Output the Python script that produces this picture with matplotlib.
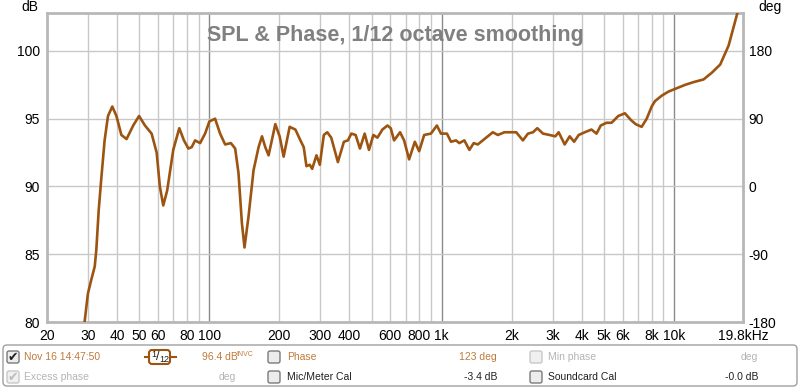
import numpy as np
import matplotlib.pyplot as plt
from matplotlib.patches import FancyBboxPatch

plt.rcParams['font.family'] = ['Liberation Sans', 'DejaVu Sans']
plt.rcParams['axes.unicode_minus'] = False

# АЧХ, значения (Гц, дБ)
freq = [28.8, 30.0, 31.0, 32.1, 32.6, 33.4, 34.3, 35.4, 36.6, 38.2,
        39.8, 41.8, 44.0, 47.0, 49.8, 52.8, 56.4, 59.3, 61.2, 63.3,
        65.8, 69.9, 74.2, 77.7, 81.2, 83.9, 86.8, 91.2, 95.8, 100,
        105.8, 111.2, 116.9, 123.7, 129.1, 133.4, 138.0, 141.6, 147.4, 154.9,
        162.8, 168.4, 174.0, 179.8, 192.2, 200.6, 208.7, 221.5, 234.5, 246.5,
        254.7, 261.6, 270.4, 276.9, 289.0, 298.7, 310.8, 321.5, 334.5, 357.3,
        379.2, 394.6, 408.2, 426.0, 444.6, 465.9, 486.3, 507.9, 528.6, 555.5,
        583.9, 603.3, 623.4, 661.7, 688.6, 723.7, 766.0, 799.5, 840.3, 898.0,
        953.3, 992.0, 1053, 1096, 1152, 1190, 1251, 1315, 1373, 1429,
        1502, 1579, 1659, 1744, 1862, 1990, 2092, 2236, 2350, 2470,
        2578, 2728, 2913, 3083, 3186, 3382, 3554, 3713, 3887, 4126,
        4411, 4636, 4837, 5121, 5382, 5752, 6142, 6521, 6833, 7253,
        7623, 8011, 8278, 8849, 9458, 10100, 11160, 12130, 13400, 14550,
        15800, 17170, 18660, 19800]
spl = [79.5, 82.1, 83.1, 84.1, 85.3, 88.3, 90.7, 93.4, 95.2, 95.9,
       95.2, 93.8, 93.5, 94.5, 95.2, 94.5, 93.9, 92.5, 90.0, 88.6,
       89.7, 92.7, 94.3, 93.4, 92.8, 92.9, 93.4, 93.2, 93.9, 94.8,
       95.0, 93.9, 93.1, 93.2, 92.8, 91.0, 87.3, 85.5, 87.8, 91.2,
       92.9, 93.7, 92.9, 92.3, 94.6, 93.7, 92.2, 94.4, 94.2, 93.4,
       92.9, 91.5, 91.6, 91.3, 92.3, 91.6, 93.8, 94.0, 93.6, 91.8,
       93.3, 93.4, 93.9, 93.8, 92.8, 93.9, 92.7, 93.8, 93.6, 94.2,
       94.5, 94.3, 93.4, 94.0, 93.4, 92.0, 93.3, 92.6, 93.8, 93.9,
       94.5, 93.9, 93.9, 93.3, 93.4, 93.2, 93.4, 92.7, 93.2, 93.1,
       93.4, 93.7, 94.0, 93.8, 94.0, 94.0, 94.0, 93.4, 93.9, 94.0,
       94.3, 93.9, 93.8, 93.7, 94.0, 93.1, 93.7, 93.3, 93.8, 94.0,
       94.2, 93.9, 94.5, 94.7, 94.7, 95.2, 95.4, 94.9, 94.6, 94.4,
       95.0, 95.9, 96.3, 96.7, 97.0, 97.2, 97.5, 97.7, 97.9, 98.4,
       99.0, 100.4, 102.7, 104.0]

x_grid = [20, 30, 40, 50, 60, 70, 80, 90,
          100, 200, 300, 400, 500, 600, 700, 800, 900,
          1000, 2000, 3000, 4000, 5000, 6000, 7000, 8000, 9000, 10000]
x_decades = [100, 1000, 10000]
x_ticks = [20, 30, 40, 50, 60, 80, 100, 200, 300, 400, 600, 800,
           1000, 2000, 3000, 4000, 5000, 6000, 8000, 10000, 19800]
x_labels = ['20', '30', '40', '50', '60', '80', '100', '200', '300', '400', '600', '800',
            '1k', '2k', '3k', '4k', '5k', '6k', '8k', '10k', '19.8kHz']
db_ticks = [80, 85, 90, 95, 100]
deg_ticks = [-180, -90, 0, 90, 180]

W, H = 800, 389
fig = plt.figure(figsize=(W / 100, H / 100), dpi=100)
ax = fig.add_axes([47 / W, 1 - 322 / H, (743 - 47) / W, (322 - 13) / H])

ax.set_xscale('log')
ax.set_xlim(20, 19800)
ax.set_ylim(80, 102.8)

for f in x_grid:
    c = '#8a8a8a' if f in x_decades else '#c8c8c8'
    ax.axvline(f, color=c, lw=1, zorder=1)
for d in db_ticks:
    ax.axhline(d, color='#c8c8c8', lw=1, zorder=1)

ax.plot(freq, spl, color='#9c5410', lw=1.9, zorder=3,
        solid_joinstyle='round', solid_capstyle='round')

ax.set_xticks(x_ticks)
ax.set_xticklabels(x_labels)
ax.minorticks_off()
ax.set_yticks(db_ticks)
ax.tick_params(length=0, labelsize=10, pad=5)
for s in ax.spines.values():
    s.set_color('#b8b8b8')
    s.set_linewidth(2)

ax2 = ax.twinx()
ax2.set_ylim(-180, (102.8 - 90) * 18)
ax2.set_yticks(deg_ticks)
ax2.tick_params(length=0, labelsize=10, pad=4)
for s in ax2.spines.values():
    s.set_visible(False)

ax.text(0.5, 0.96, 'SPL & Phase, 1/12 octave smoothing', transform=ax.transAxes,
        ha='center', va='top', fontsize=15.5, fontweight='bold', color='#808080', zorder=4)

# Подписи осей и нижняя панель в пикселях
pan = fig.add_axes([0, 0, 1, 1], zorder=-1)
pan.set_xlim(0, W)
pan.set_ylim(H, 0)
pan.axis('off')

pan.text(30, 7, 'dB', ha='center', va='center', fontsize=10)
pan.text(770, 7, 'deg', ha='center', va='center', fontsize=10)

pan.add_patch(FancyBboxPatch((3, 345), 794, 41, boxstyle='round,pad=0,rounding_size=4',
                             fc='white', ec='#a0a0a0', lw=1))

orange = '#c07a3a'
light = '#b4b4b4'
r1, r2 = 357, 377


def checkbox(x, y, checked=False, enabled=True):
    ec = '#7a7a7a' if enabled else '#c8c8c8'
    fc = '#ececec' if enabled else '#f0f0f0'
    pan.add_patch(FancyBboxPatch((x, y - 6), 12, 12, boxstyle='round,pad=0,rounding_size=2',
                                 fc=fc, ec=ec, lw=1))
    if checked:
        pan.text(x + 6, y, '✔', ha='center', va='center', fontsize=9,
                 family='DejaVu Sans', color='#202020' if enabled else '#bcbcbc')


checkbox(7, r1, checked=True)
checkbox(7, r2, checked=True, enabled=False)
checkbox(268, r1)
checkbox(268, r2)
checkbox(530, r1, enabled=False)
checkbox(530, r2)

fs = 7.5
pan.text(24, r1, 'Nov 16 14:47:50', ha='left', va='center', fontsize=fs, color=orange)
pan.text(24, r2, 'Excess phase', ha='left', va='center', fontsize=fs, color=light)

# значок сглаживания 1/12
pan.plot([145, 149], [357, 357], color='#9c5410', lw=1.5)
pan.plot([170, 176], [357, 357], color='#9c5410', lw=1.5)
pan.add_patch(FancyBboxPatch((149, 350), 21, 14, boxstyle='round,pad=0,rounding_size=3',
                             fc='white', ec='#9c5410', lw=1.5))
pan.text(154, 354.5, '1', ha='center', va='center', fontsize=6.5, color='#202020')
pan.text(158, 357, '/', ha='center', va='center', fontsize=9, color='#202020')
pan.text(164, 359.5, '12', ha='center', va='center', fontsize=6.5, color='#202020')

pan.text(202, r1, '96.4 dB', ha='left', va='center', fontsize=fs, color=orange)
pan.text(236, r1 - 3, 'INVC', ha='left', va='center', fontsize=5, color=orange)
pan.text(227, r2, 'deg', ha='center', va='center', fontsize=fs, color=light)

pan.text(287, r1, 'Phase', ha='left', va='center', fontsize=fs, color=orange)
pan.text(287, r2, 'Mic/Meter Cal', ha='left', va='center', fontsize=fs, color='#202020')
pan.text(497, r1, '123 deg', ha='right', va='center', fontsize=fs, color=orange)
pan.text(497, r2, '-3.4 dB', ha='right', va='center', fontsize=fs, color='#202020')

pan.text(548, r1, 'Min phase', ha='left', va='center', fontsize=fs, color=light)
pan.text(548, r2, 'Soundcard Cal', ha='left', va='center', fontsize=fs, color='#202020')
pan.text(758, r1, 'deg', ha='right', va='center', fontsize=fs, color=light)
pan.text(758, r2, '-0.0 dB', ha='right', va='center', fontsize=fs, color='#202020')

fig.savefig('out.png', dpi=100)
